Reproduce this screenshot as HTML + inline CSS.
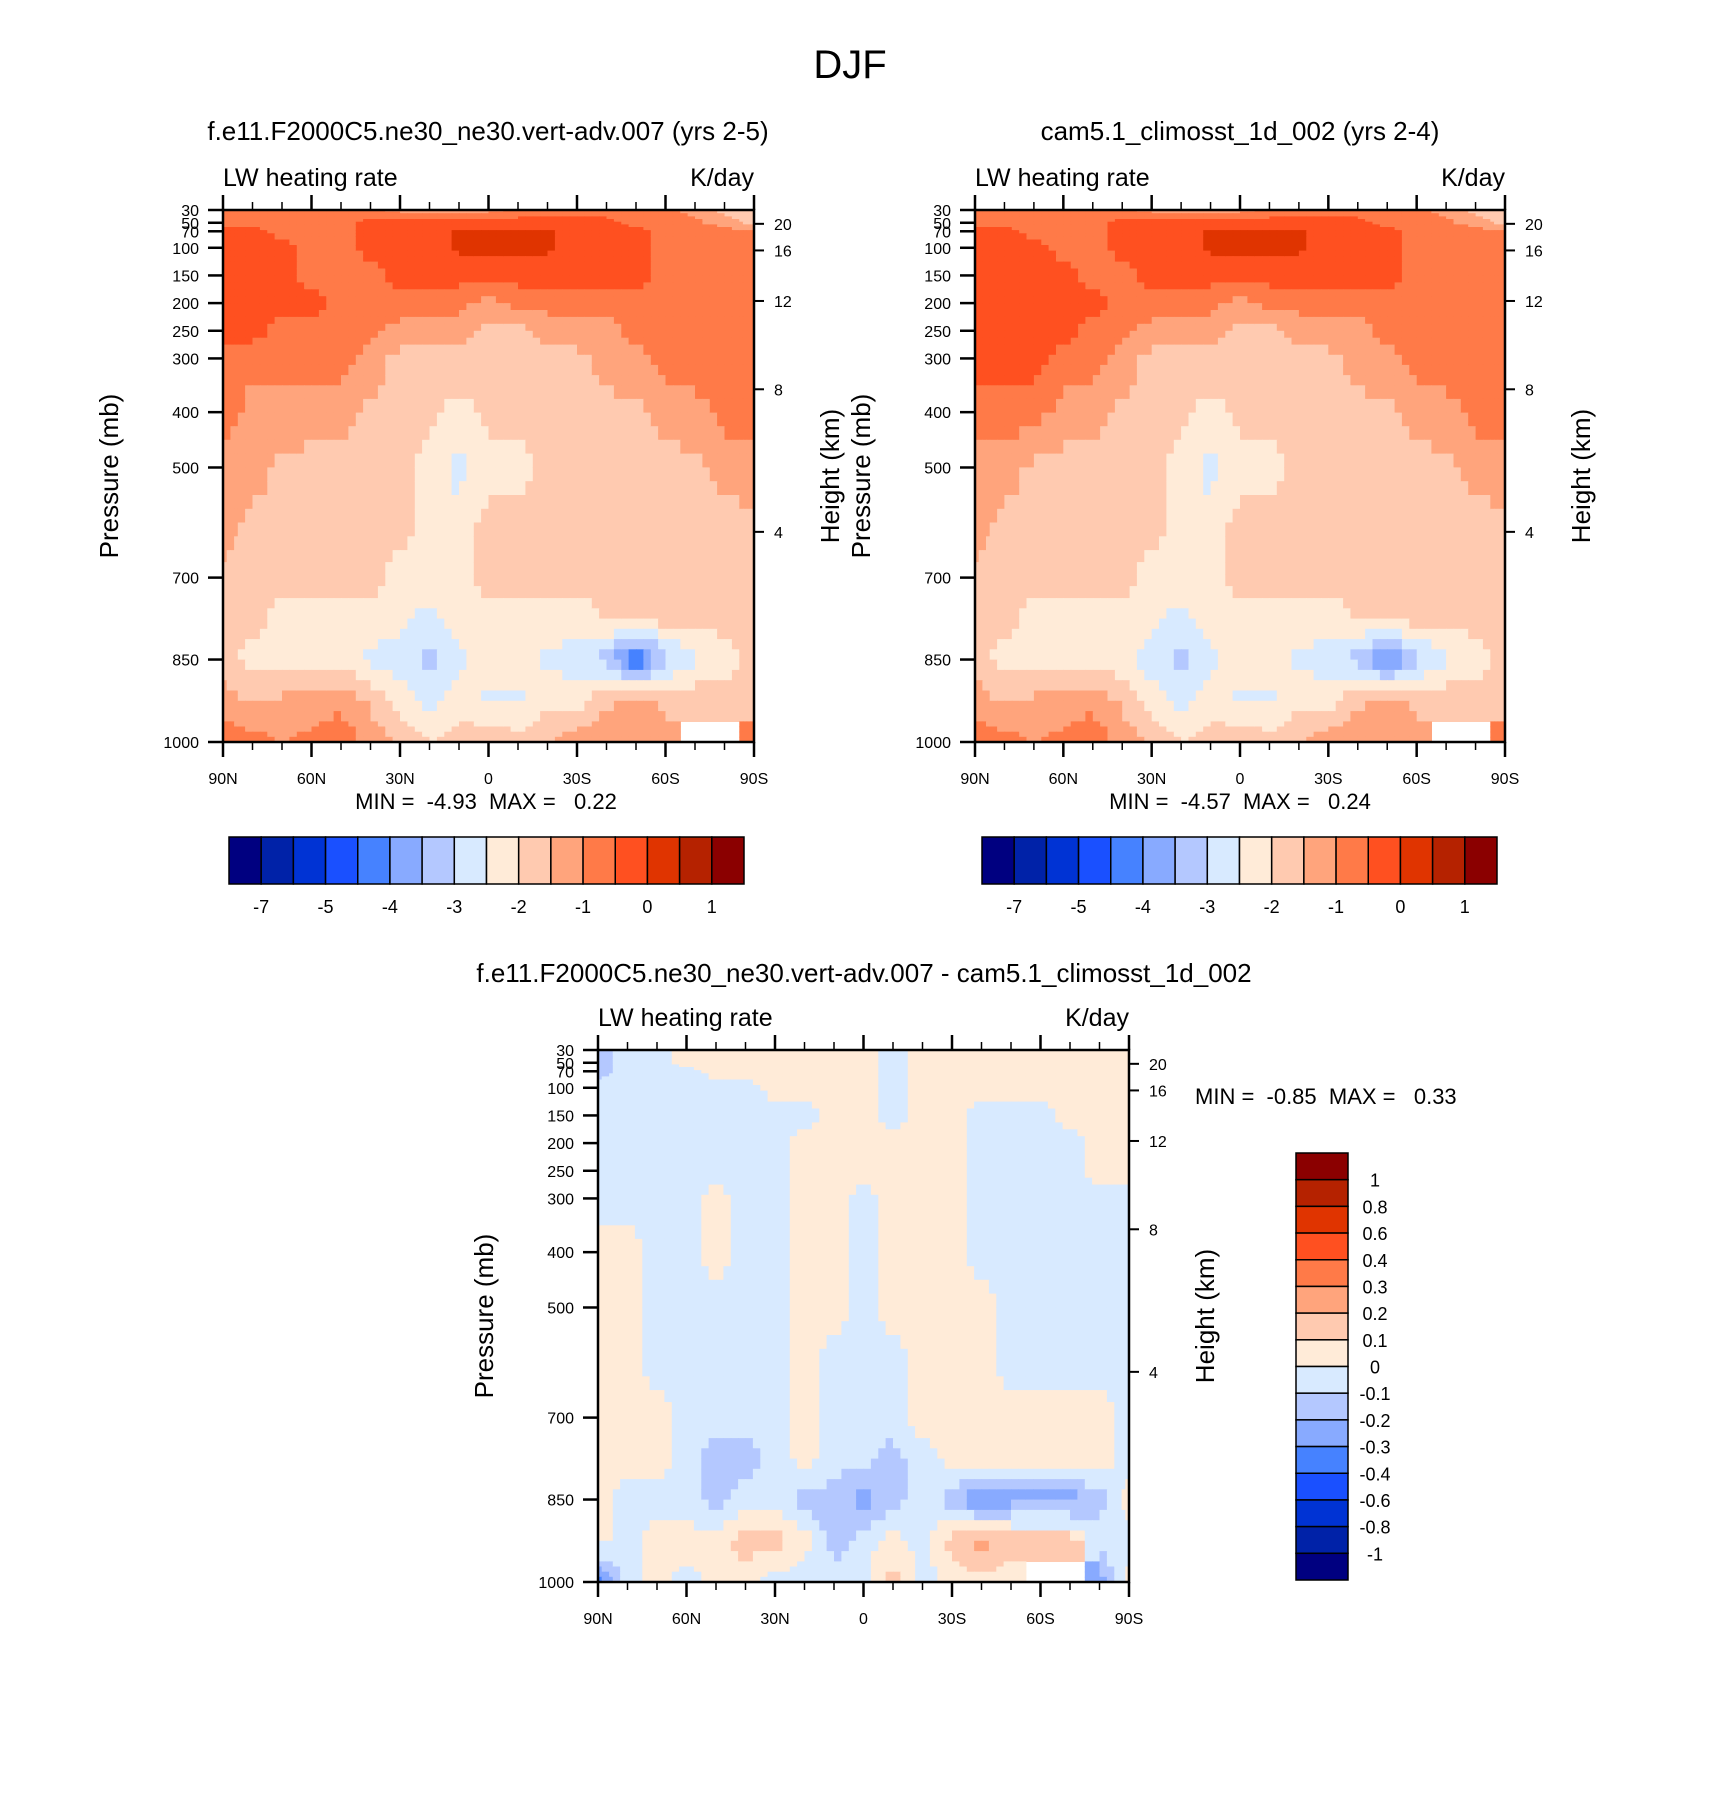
<!DOCTYPE html>
<html><head><meta charset="utf-8"><style>
body{margin:0;background:#fff}
svg text{font-family:"Liberation Sans",Arial,sans-serif;fill:#000;white-space:pre}
</style></head><body>
<svg id="fig" width="1710" height="1803" viewBox="0 0 1710 1803" xmlns="http://www.w3.org/2000/svg" xml:space="preserve"></svg>
<script>
const lats=[90,80,70,60,50,40,30,20,10,0,-10,-20,-30,-40,-50,-60,-70,-80,-90];
const pLevels=[30,50,70,100,150,200,250,300,400,500,600,700,775,850,925,1000];
const colors=["#000080","#0022A8","#0033D4","#1A50FF","#4682FF","#88AAFF","#B4C8FF","#D8EAFF","#FFEBD8","#FFCAB0","#FFA47C","#FF7A48","#FF5020","#E03400","#B52200","#8B0000"];
const levels12=[-7,-6,-5,-4.5,-4,-3.5,-3,-2.5,-2,-1.5,-1,-0.5,0,0.5,1];
const cbLabels12=["-7","-5","-4","-3","-2","-1","0","1"];
const levels3=[-1,-0.8,-0.6,-0.4,-0.3,-0.2,-0.1,0,0.1,0.2,0.3,0.4,0.6,0.8,1];
const cbLabels3=["-1","-0.8","-0.6","-0.4","-0.3","-0.2","-0.1","0","0.1","0.2","0.3","0.4","0.6","0.8","1"];
const pTicks=[30,50,70,100,150,200,250,300,400,500,700,850,1000];
const pFrac=[0,0.024,0.04,0.071,0.123,0.175,0.227,0.279,0.380,0.484,0.691,0.845,1];
const hTicks=[20,16,12,8,4];
const hFrac=[0.026,0.076,0.171,0.337,0.605];
const latTicks=["90N","60N","30N","0","30S","60S","90S"];
const vals1=[
[-0.8,-0.8,-0.8,-0.8,-0.8,-0.8,-1.2,-1.2,-1.2,-1.2,-0.8,-0.8,-0.8,-0.8,-0.8,-0.8,-1.2,-1.7,-1.7],
[-0.8,-0.8,-0.8,-0.8,-0.7,-0.3,-0.3,-0.3,-0.3,-0.3,-0.3,-0.3,-0.3,-0.3,-0.7,-0.8,-0.9,-1.2,-1.7],
[-0.3,-0.3,-0.7,-0.8,-0.7,-0.3,-0.3,-0.3,0.1,0.1,0.1,0.1,-0.3,-0.3,-0.3,-0.7,-0.8,-0.8,-0.9],
[-0.3,-0.3,-0.3,-0.7,-0.7,-0.3,-0.3,-0.3,0.1,0.1,0.1,0.1,-0.3,-0.3,-0.3,-0.7,-0.8,-0.8,-0.8],
[-0.3,-0.3,-0.3,-0.7,-0.7,-0.7,-0.3,-0.3,-0.3,-0.3,-0.3,-0.3,-0.3,-0.3,-0.3,-0.7,-0.8,-0.8,-0.8],
[-0.3,-0.3,-0.3,-0.3,-0.7,-0.7,-0.7,-0.8,-0.8,-1.2,-0.8,-0.8,-0.8,-0.8,-0.7,-0.7,-0.7,-0.7,-0.7],
[-0.3,-0.3,-0.7,-0.7,-0.7,-0.8,-1.2,-1.2,-1.3,-1.7,-1.7,-1.3,-1.2,-1.2,-0.8,-0.7,-0.7,-0.7,-0.7],
[-0.8,-0.8,-0.8,-0.8,-0.8,-1.2,-1.7,-1.7,-1.7,-1.7,-1.7,-1.7,-1.7,-1.2,-1.2,-0.8,-0.7,-0.7,-0.7],
[-0.7,-1.2,-1.2,-1.2,-1.3,-1.6,-1.7,-1.8,-2.2,-1.8,-1.8,-1.8,-1.8,-1.7,-1.6,-1.3,-1.2,-0.8,-0.8],
[-1.3,-1.3,-1.6,-1.7,-1.7,-1.8,-1.8,-2.2,-2.7,-2.2,-2.2,-1.8,-1.8,-1.8,-1.8,-1.7,-1.6,-1.3,-1.2],
[-1.3,-1.6,-1.7,-1.8,-1.8,-1.8,-1.8,-2.2,-2.3,-1.8,-1.8,-1.8,-1.8,-1.8,-1.8,-1.8,-1.7,-1.7,-1.6],
[-1.6,-1.7,-1.8,-1.8,-1.8,-1.8,-2.2,-2.2,-2.2,-1.8,-1.8,-1.8,-1.8,-1.8,-1.8,-1.8,-1.8,-1.8,-1.8],
[-1.7,-1.8,-2.2,-2.2,-2.2,-2.2,-2.3,-2.7,-2.2,-2.2,-2.2,-2.2,-2.2,-2.0,-1.8,-1.8,-1.8,-1.8,-1.8],
[-1.8,-2.2,-2.2,-2.2,-2.2,-2.6,-2.8,-3.2,-2.6,-2.2,-2.3,-2.6,-2.8,-3.2,-4.6,-3.2,-2.6,-2.2,-1.8],
[-1.2,-1.6,-1.4,-1.4,-1.2,-1.6,-2.2,-2.7,-2.2,-2.6,-2.6,-2.2,-2.2,-1.6,-1.3,-1.6,-1.6,-1.8,-1.8],
[-0.7,-0.8,-1.0,-0.8,-0.6,-1.2,-1.6,-2.0,-1.8,-1.6,-1.8,-1.5,-1.2,-1.2,-1.2,-1.1,null,null,-1.0]];
const vals2=[
[-0.8,-0.8,-0.8,-0.8,-0.8,-0.8,-1.2,-1.2,-1.2,-1.2,-0.8,-0.8,-0.8,-0.8,-0.8,-0.8,-1.2,-1.7,-1.7],
[-0.8,-0.8,-0.8,-0.8,-0.7,-0.3,-0.3,-0.3,-0.3,-0.3,-0.3,-0.3,-0.3,-0.3,-0.7,-0.8,-0.9,-1.2,-1.7],
[-0.3,-0.3,-0.7,-0.8,-0.7,-0.3,-0.3,-0.3,0.1,0.1,0.1,0.1,-0.3,-0.3,-0.3,-0.7,-0.8,-0.8,-0.9],
[-0.3,-0.3,-0.3,-0.7,-0.7,-0.3,-0.3,-0.3,0.1,0.1,0.1,0.1,-0.3,-0.3,-0.3,-0.7,-0.8,-0.8,-0.8],
[-0.3,-0.3,-0.3,-0.3,-0.7,-0.7,-0.3,-0.3,-0.3,-0.3,-0.3,-0.3,-0.3,-0.3,-0.3,-0.7,-0.8,-0.8,-0.8],
[-0.3,-0.3,-0.3,-0.3,-0.3,-0.7,-0.7,-0.8,-0.8,-1.2,-0.8,-0.8,-0.8,-0.8,-0.7,-0.7,-0.7,-0.7,-0.7],
[-0.3,-0.3,-0.3,-0.3,-0.7,-0.8,-1.2,-1.2,-1.3,-1.7,-1.7,-1.3,-1.2,-1.2,-0.8,-0.7,-0.7,-0.7,-0.7],
[-0.3,-0.3,-0.3,-0.7,-0.8,-1.2,-1.7,-1.7,-1.7,-1.7,-1.7,-1.7,-1.7,-1.2,-1.2,-0.8,-0.7,-0.7,-0.7],
[-0.7,-0.7,-0.8,-1.2,-1.3,-1.6,-1.7,-1.8,-2.2,-1.8,-1.8,-1.8,-1.8,-1.7,-1.6,-1.3,-1.2,-0.8,-0.7],
[-1.2,-1.3,-1.6,-1.7,-1.7,-1.8,-1.8,-2.2,-2.7,-2.2,-2.2,-1.8,-1.8,-1.8,-1.8,-1.7,-1.6,-1.3,-1.2],
[-1.3,-1.6,-1.7,-1.8,-1.8,-1.8,-1.8,-2.2,-2.3,-1.8,-1.8,-1.8,-1.8,-1.8,-1.8,-1.8,-1.7,-1.7,-1.6],
[-1.6,-1.7,-1.8,-1.8,-1.8,-1.8,-2.2,-2.2,-2.2,-1.8,-1.8,-1.8,-1.8,-1.8,-1.8,-1.8,-1.8,-1.8,-1.8],
[-1.7,-1.8,-2.2,-2.2,-2.2,-2.2,-2.3,-2.7,-2.2,-2.2,-2.2,-2.2,-2.2,-2.0,-1.8,-1.8,-1.8,-1.8,-1.8],
[-1.8,-2.2,-2.2,-2.2,-2.2,-2.3,-2.8,-3.2,-2.6,-2.2,-2.3,-2.6,-2.8,-3.2,-4.2,-3.2,-2.6,-2.2,-1.8],
[-1.2,-1.6,-1.4,-1.4,-1.2,-1.6,-2.2,-2.7,-2.2,-2.6,-2.6,-2.2,-2.2,-1.6,-1.3,-1.6,-1.6,-1.8,-1.8],
[-0.7,-0.8,-1.0,-0.8,-0.6,-1.2,-1.6,-2.0,-1.8,-1.6,-1.8,-1.5,-1.2,-1.2,-1.2,-1.1,null,null,-1.0]];
const vals3=[
[-0.15,-0.05,-0.05,0.05,0.05,0.05,0.05,0.05,0.05,0.05,-0.05,0.05,0.05,0.05,0.05,0.05,0.05,0.05,0.05],
[-0.15,-0.05,-0.05,0.05,0.05,0.05,0.05,0.05,0.05,0.05,-0.05,0.05,0.05,0.05,0.05,0.05,0.05,0.05,0.05],
[-0.15,-0.05,-0.05,-0.05,0.05,0.05,0.05,0.05,0.05,0.05,-0.05,0.05,0.05,0.05,0.05,0.05,0.05,0.05,0.05],
[-0.05,-0.05,-0.05,-0.05,-0.05,-0.05,0.05,0.05,0.05,0.05,-0.05,0.05,0.05,0.05,0.05,0.05,0.05,0.05,0.05],
[-0.05,-0.05,-0.05,-0.05,-0.05,-0.05,-0.05,-0.05,0.05,0.05,-0.05,0.05,0.05,-0.05,-0.05,-0.05,0.05,0.05,0.05],
[-0.05,-0.05,-0.05,-0.05,-0.05,-0.05,-0.05,0.05,0.05,0.05,0.05,0.05,0.05,-0.05,-0.05,-0.05,-0.05,0.05,0.05],
[-0.05,-0.05,-0.05,-0.05,-0.05,-0.05,-0.05,0.05,0.05,0.05,0.05,0.05,0.05,-0.05,-0.05,-0.05,-0.05,0.05,0.05],
[-0.05,-0.05,-0.05,-0.05,0.05,-0.05,-0.05,0.05,0.05,-0.05,0.05,0.05,0.05,-0.05,-0.05,-0.05,-0.05,-0.05,-0.05],
[0.05,0.05,-0.05,-0.05,0.05,-0.05,-0.05,0.05,0.05,-0.05,0.05,0.05,0.05,-0.05,-0.05,-0.05,-0.05,-0.05,-0.05],
[0.05,0.05,-0.05,-0.05,-0.05,-0.05,-0.05,0.05,0.05,-0.05,0.05,0.05,0.05,0.05,-0.05,-0.05,-0.05,-0.05,-0.05],
[0.05,0.05,-0.05,-0.05,-0.05,-0.05,-0.05,0.05,-0.05,-0.05,-0.05,0.05,0.05,0.05,-0.05,-0.05,-0.05,-0.05,-0.05],
[0.05,0.05,0.05,-0.05,-0.05,-0.05,-0.05,0.05,-0.05,-0.05,-0.05,0.05,0.05,0.05,0.05,0.05,0.05,0.05,-0.05],
[0.05,0.05,0.05,-0.05,-0.15,-0.15,-0.05,0.05,-0.05,-0.05,-0.15,-0.05,0.05,0.05,0.05,0.05,0.05,0.05,-0.05],
[0.05,-0.05,-0.05,-0.05,-0.15,-0.05,-0.05,-0.15,-0.15,-0.25,-0.15,-0.05,-0.15,-0.35,-0.25,-0.25,-0.25,-0.15,0.05],
[0.05,-0.05,0.05,0.05,0.05,0.15,0.15,0.05,-0.15,-0.05,0.05,-0.05,0.15,0.25,0.15,0.15,0.15,-0.05,-0.05],
[-0.35,-0.05,0.05,-0.05,0.05,0.05,-0.05,-0.05,-0.05,-0.05,0.15,-0.05,0.05,0.05,0.05,null,null,-0.25,0.05]];

const NS="http://www.w3.org/2000/svg";
const svg=document.getElementById('fig');
function mk(tag,attrs,parent){const e=document.createElementNS(NS,tag);for(const k in attrs)e.setAttribute(k,attrs[k]);(parent||svg).appendChild(e);return e;}
function txt(s,x,y,size,anchor,parent,rot){const t=mk('text',{x:x,y:y,'font-size':size,'text-anchor':anchor||'middle'},parent);if(rot)t.setAttribute('transform','rotate(-90 '+x+' '+y+')');t.textContent=s;return t;}
function interp(xs,ys,v){for(let i=0;i<xs.length-1;i++){if(v>=xs[i]&&v<=xs[i+1]){return ys[i]+(ys[i+1]-ys[i])*(v-xs[i])/(xs[i+1]-xs[i]);}}return v<xs[0]?ys[0]:ys[ys.length-1];}
function colorFor(v,lv){let i=0;while(i<lv.length&&v>=lv[i])i++;return colors[i];}

function plot(name,x0,y0,w,h,vals,lv){
  const g=mk('g',{});
  
  
  const xs=j=>x0+(90-lats[j])/180*w;
  const ys=p=>y0+interp(pTicks,pFrac,p)*h;
  const nR=pLevels.length,nC=lats.length,S=4;
  const yc=pLevels.map(p=>ys(p)), xc=lats.map((_,j)=>xs(j));
  function sample(x,y,i0,j0){
    // bilinear between neighbouring grid centres (render smoothing)
    let i=i0,j=j0;
    if(y<yc[i]&&i>0)i=i-1; if(x<xc[j]&&j>0)j=j-1;
    const i2=Math.min(i+1,nR-1), j2=Math.min(j+1,nC-1);
    const a=vals[i][j],b=vals[i][j2],c=vals[i2][j],d=vals[i2][j2];
    if(a===null||b===null||c===null||d===null)return vals[i0][j0];
    const ty=i2==i?0:Math.max(0,Math.min(1,(y-yc[i])/(yc[i2]-yc[i])));
    const tx=j2==j?0:Math.max(0,Math.min(1,(x-xc[j])/(xc[j2]-xc[j])));
    return (a*(1-tx)+b*tx)*(1-ty)+(c*(1-tx)+d*tx)*ty;
  }
  for(let i=0;i<nR;i++){
    const yt=i==0?y0:(yc[i-1]+yc[i])/2;
    const yb=i==nR-1?y0+h:(yc[i]+yc[i+1])/2;
    for(let j=0;j<nC;j++){
      if(vals[i][j]===null)continue;
      const xl=j==0?x0:(xc[j-1]+xc[j])/2;
      const xr=j==nC-1?x0+w:(xc[j]+xc[j+1])/2;
      const dw=(xr-xl)/S, dh=(yb-yt)/S;
      for(let a=0;a<S;a++)for(let b=0;b<S;b++){
        const sx=xl+(b+0.5)*dw, sy=yt+(a+0.5)*dh;
        const v=sample(sx,sy,i,j);
        const r=mk('rect',{x:(xl+b*dw).toFixed(1),y:(yt+a*dh).toFixed(1),width:(dw+0.6).toFixed(1),height:(dh+0.6).toFixed(1),fill:colorFor(v,lv)},g);
        
        
      }
    }
  }
  mk('rect',{x:x0,y:y0,width:w,height:h,fill:'none',stroke:'#000','stroke-width':2.5},g);
  for(let k=0;k<=18;k++){
    const x=x0+k/18*w, major=k%3==0, L=major?15:8;
    mk('line',{x1:x,y1:y0+h,x2:x,y2:y0+h+L,stroke:'#000','stroke-width':major?2.5:1.5},g);
    mk('line',{x1:x,y1:y0,x2:x,y2:y0-L,stroke:'#000','stroke-width':major?2.5:1.5},g);
  }
  latTicks.forEach((s,k)=>{const t=txt(s,x0+k/6*w,y0+h+42,16,'middle',g);});
  pTicks.forEach(p=>{const y=ys(p);mk('line',{x1:x0,y1:y,x2:x0-15,y2:y,stroke:'#000','stroke-width':2.5},g);
    const t=txt(String(p),x0-24,y+6,16,'end',g);});
  hTicks.forEach((hv,k)=>{const y=y0+hFrac[k]*h;mk('line',{x1:x0+w,y1:y,x2:x0+w+10,y2:y,stroke:'#000','stroke-width':2},g);
    const t=txt(String(hv),x0+w+20,y+6,16,'start',g);});
  const a=txt('LW heating rate',x0,y0-24,25,'start',g);
  const b=txt('K/day',x0+w,y0-24,25,'end',g);
  const c=txt('Pressure (mb)',x0-105,y0+h/2,26,'middle',g,true);
  const d=txt('Height (km)',x0+w+85,y0+h/2,26,'middle',g,true);
}
function hbar(name,x0,y0,w,h,labels){
  const g=mk('g',{});
  
  
  const bw=w/16;
  colors.forEach((c,i)=>{const r=mk('rect',{x:x0+i*bw,y:y0,width:bw,height:h,fill:c,stroke:'#000','stroke-width':1.5},g);});
  labels.forEach((s,k)=>{const t=txt(s,x0+(2*k+1)*bw,y0+h+29,18,'middle',g);});
}
function vbar(name,x0,y0,w,h,labels){
  const g=mk('g',{});
  
  
  const bh=h/16;
  for(let i=0;i<16;i++){const r=mk('rect',{x:x0,y:y0+i*bh,width:w,height:bh,fill:colors[15-i],stroke:'#000','stroke-width':1.5},g);}
  for(let k=0;k<15;k++){const t=txt(labels[14-k],x0+w+27,y0+(k+1)*bh+7,18,'middle',g);}
}
let t;
t=txt('DJF',850,78,40);
t=txt('f.e11.F2000C5.ne30_ne30.vert-adv.007 (yrs 2-5)',488,140,26);
t=txt('cam5.1_climosst_1d_002 (yrs 2-4)',1240,140,26);
t=txt('f.e11.F2000C5.ne30_ne30.vert-adv.007 - cam5.1_climosst_1d_002',864,982,26);
plot('panel1-contour',223,210,531,532,vals1,levels12);
plot('panel2-contour',975,210,530,532,vals2,levels12);
plot('panel3-contour',598,1050,531,532,vals3,levels3);
t=txt('MIN =  -4.93  MAX =   0.22',486,809,22);
t=txt('MIN =  -4.57  MAX =   0.24',1240,809,22);
t=txt('MIN =  -0.85  MAX =   0.33',1195,1104,22,'start');
hbar('panel1-colorbar',229,837,515,47,cbLabels12);
hbar('panel2-colorbar',982,837,515,47,cbLabels12);
vbar('panel3-colorbar',1296,1153,52,427,cbLabels3);
</script>
</body></html>
